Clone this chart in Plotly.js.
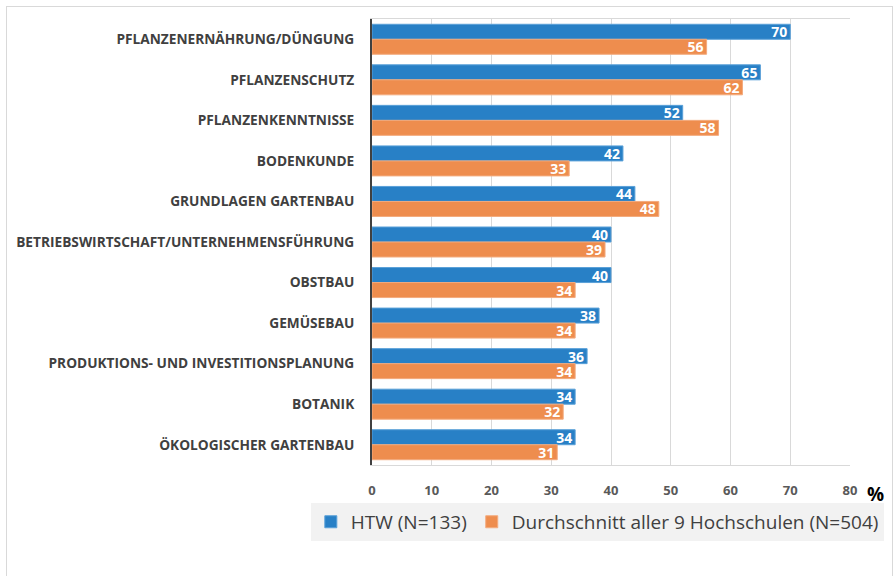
<!DOCTYPE html>
<html>
<head>
<meta charset="utf-8">
<script src="https://cdn.plot.ly/plotly-3.0.1.min.js"></script>
<style>
html,body{margin:0;padding:0;background:#fff;}
#frame{position:absolute;left:6px;top:6px;width:887px;height:620px;border:1px solid #d9d9d9;box-sizing:border-box;}
#chart{position:absolute;left:0;top:0;width:895px;height:576px;}
</style>
</head>
<body>
<div id="frame"></div>
<div id="chart"></div>
<script>
const categories = [
  "PFLANZENERNÄHRUNG/DÜNGUNG",
  "PFLANZENSCHUTZ",
  "PFLANZENKENNTNISSE",
  "BODENKUNDE",
  "GRUNDLAGEN GARTENBAU",
  "BETRIEBSWIRTSCHAFT/UNTERNEHMENSFÜHRUNG",
  "OBSTBAU",
  "GEMÜSEBAU",
  "PRODUKTIONS- UND INVESTITIONSPLANUNG",
  "BOTANIK",
  "ÖKOLOGISCHER GARTENBAU"
];
const htwValues = [70, 65, 52, 42, 44, 40, 40, 38, 36, 34, 34];
const avgValues = [56, 62, 58, 33, 48, 39, 34, 34, 34, 32, 31];
const seriesNames = ["HTW (N=133)", "Durchschnitt aller 9 Hochschulen (N=504)"];
const xTicks = [0, 10, 20, 30, 40, 50, 60, 70, 80];

const labelFont = {family: "Open Sans, sans-serif", size: 14, color: "#ffffff", weight: 700};

const traces = [
  {
    type: "bar", orientation: "h", name: seriesNames[0],
    y: categories, x: htwValues,
    text: htwValues.map(String), textposition: "inside", insidetextanchor: "end", textangle: 0,
    textfont: labelFont, constraintext: "none",
    marker: {color: "#2880C6", line: {color: "#5aa0d8", width: 1}},
    hoverinfo: "x+name"
  },
  {
    type: "bar", orientation: "h", name: seriesNames[1],
    y: categories, x: avgValues,
    text: avgValues.map(String), textposition: "inside", insidetextanchor: "end", textangle: 0,
    textfont: labelFont, constraintext: "none",
    marker: {color: "#EE8D4E", line: {color: "#f3ab7e", width: 1}},
    hoverinfo: "x+name"
  }
];

const layout = {
  width: 895, height: 576,
  margin: {l: 372, r: 45, t: 19, b: 111, pad: 0},
  paper_bgcolor: "rgba(0,0,0,0)",
  plot_bgcolor: "#ffffff",
  barmode: "group",
  bargap: 0.26,
  bargroupgap: 0,
  font: {family: "Open Sans, sans-serif", color: "#404040"},
  xaxis: {
    range: [0, 80], tickvals: xTicks, ticktext: xTicks.map(String),
    showgrid: true, gridcolor: "#d9d9d9", gridwidth: 1,
    zeroline: false,
    showline: true, mirror: true, linecolor: "#d9d9d9", linewidth: 1,
    ticks: "outside", ticklen: 13, tickcolor: "rgba(0,0,0,0)",
    tickfont: {family: "Open Sans, sans-serif", size: 13, color: "#595959", weight: 700}
  },
  yaxis: {
    autorange: "reversed",
    showline: true, linecolor: "#404040", linewidth: 2,
    showgrid: false, zeroline: false,
    ticks: "outside", ticklen: 13, tickcolor: "rgba(0,0,0,0)",
    tickfont: {family: "Open Sans, sans-serif", size: 13.7, color: "#404040", weight: 700}
  },
  showlegend: true,
  legend: {
    orientation: "h", x: -0.128, xanchor: "left", y: -0.085, yanchor: "top",
    bgcolor: "#f2f2f2", font: {family: "Open Sans, sans-serif", size: 19, color: "#404040"},
    traceorder: "normal", itemwidth: 30
  },
  annotations: [
    {text: "<b>%</b>", xref: "paper", yref: "paper", x: 1.054, y: -0.065, xanchor: "center", yanchor: "middle",
     showarrow: false, font: {family: "Open Sans, sans-serif", size: 19, color: "#000000"}}
  ]
};

Plotly.newPlot("chart", traces, layout, {displayModeBar: false, staticPlot: true});
</script>
</body>
</html>
